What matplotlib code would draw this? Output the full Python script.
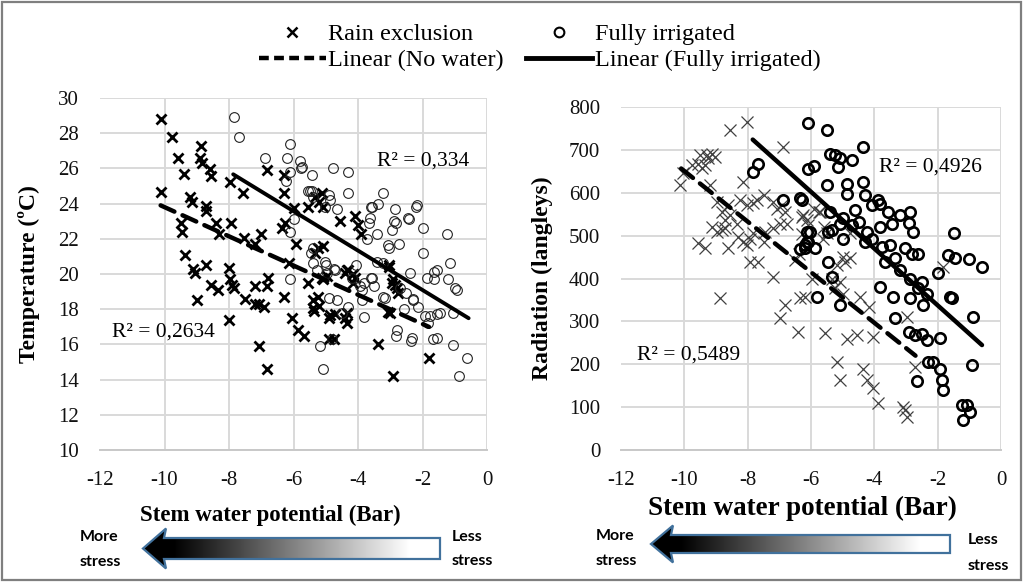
import matplotlib
matplotlib.use("Agg")
import matplotlib.pyplot as plt
from matplotlib.lines import Line2D
from matplotlib.patches import Polygon, Rectangle
import numpy as np

# ---- left panel: air temperature vs stem water potential
temp_rain = [
    (-10.1, 28.8), (-9.76, 27.8), (-9.57, 26.6), (-9.38, 25.7), (-10.12, 24.65), (-9.2, 24.4),
    (-9.15, 24.1), (-9.5, 22.9), (-9.45, 22.4), (-8.86, 27.3), (-8.9, 26.6), (-8.85, 26.3),
    (-8.6, 25.95), (-8.55, 25.55), (-8.7, 23.85), (-8.7, 23.6), (-8.4, 22.9), (-8.3, 22.3),
    (-7.97, 25.2), (-7.57, 24.6), (-7.93, 22.9), (-7.55, 22.05), (-7.2, 21.7), (-7.0, 22.3),
    (-6.83, 25.9), (-6.3, 25.65), (-6.3, 24.6), (-6.35, 22.6), (-6.25, 22.9), (-5.97, 23.75),
    (-5.93, 21.7), (-5.55, 23.8), (-5.33, 24.4), (-5.2, 24.1), (-5.1, 23.8), (-5.13, 24.6),
    (-4.55, 23.0), (-4.1, 23.3), (-4.0, 22.8), (-3.9, 22.3), (-5.33, 21.2), (-5.1, 21.6),
    (-6.15, 20.6), (-4.35, 20.2), (-4.15, 20.0), (-3.05, 20.5), (-2.9, 19.7), (-2.8, 19.2),
    (-9.36, 21.1), (-9.12, 20.3), (-9.05, 20.05), (-8.72, 20.5), (-9.0, 18.5), (-8.57, 19.4),
    (-8.33, 19.1), (-7.99, 20.35), (-7.97, 19.7), (-7.92, 19.4), (-7.86, 19.2), (-7.99, 17.4),
    (-7.5, 18.6), (-7.2, 19.3), (-7.2, 18.3), (-7.06, 18.3), (-6.9, 18.1), (-6.8, 19.8),
    (-6.83, 19.3), (-7.06, 15.9), (-6.83, 14.6), (-6.3, 18.7), (-6.04, 17.5), (-5.85, 16.8),
    (-5.67, 16.5), (-5.55, 19.5), (-5.4, 18.5), (-5.37, 17.9), (-5.25, 18.7), (-5.2, 18.2),
    (-5.1, 19.7), (-4.95, 19.9), (-4.9, 17.5), (-4.9, 16.3), (-4.75, 16.3), (-4.7, 17.7),
    (-4.4, 20.05), (-4.4, 17.5), (-4.35, 17.2), (-4.1, 19.8), (-3.37, 16.0), (-3.05, 20.4),
    (-2.95, 19.5), (-3.0, 17.8), (-2.92, 14.2), (-2.75, 18.9), (-1.8, 15.2), (-5.39, 18.05),
    (-4.87, 17.67), (-4.35, 17.77), (-5.23, 21.46), (-5.13, 19.75), (-4.3, 20.2), (-4.15, 19.47),
    (-2.85, 19.4), (-3.06, 17.86),
]
temp_irrig = [
    (-7.86, 28.9), (-7.69, 27.8), (-6.88, 26.6), (-6.19, 26.6), (-6.1, 27.4), (-6.23, 25.3),
    (-6.1, 25.8), (-5.8, 26.4), (-5.77, 26.0), (-5.43, 25.6), (-4.78, 26.0), (-4.3, 25.8),
    (-5.55, 24.7), (-5.43, 24.7), (-5.38, 24.4), (-4.9, 24.5), (-4.87, 24.2), (-4.66, 23.7),
    (-4.3, 24.6), (-3.6, 23.8), (-3.37, 24.0), (-3.23, 24.6), (-2.85, 23.7), (-2.2, 23.8),
    (-2.43, 23.1), (-2.87, 23.0), (-2.83, 22.9), (-2.96, 22.5), (-3.66, 22.9), (-3.4, 22.3),
    (-2.0, 22.6), (-1.24, 22.3), (-1.97, 21.2), (-3.05, 21.5), (-2.73, 21.7), (-3.73, 22.0),
    (-5.97, 23.1), (-6.1, 22.4), (-5.45, 21.2), (-5.4, 20.6), (-5.28, 20.2), (-4.97, 20.05),
    (-4.75, 20.3), (-4.05, 20.5), (-2.4, 20.05), (-1.87, 19.8), (-1.63, 20.1), (-1.63, 19.7),
    (-1.14, 20.6), (-1.22, 19.7), (-0.93, 19.1), (-6.1, 19.7), (-3.82, 19.5), (-3.87, 19.1),
    (-3.6, 19.8), (-2.7, 19.2), (-2.5, 18.9), (-2.3, 18.5), (-2.15, 18.1), (-3.8, 17.55),
    (-4.3, 18.1), (-4.66, 18.5), (-4.9, 18.65), (-5.0, 20.5), (-4.7, 20.2), (-3.5, 19.3),
    (-3.16, 18.65), (-2.8, 16.8), (-2.83, 16.5), (-2.56, 18.0), (-2.35, 16.2), (-1.93, 17.6),
    (-1.83, 17.2), (-1.66, 16.3), (-1.76, 17.6), (-1.55, 17.7), (-1.04, 15.96), (-0.63, 15.2),
    (-0.86, 14.2), (-1.04, 17.8), (-5.18, 15.9), (-5.1, 14.6), (-4.82, 16.3), (-3.89, 18.5),
    (-3.94, 19.3), (-3.22, 18.7), (-2.33, 16.35), (-1.56, 16.35), (-2.29, 18.6), (-1.46, 17.8),
    (-0.99, 19.2), (-1.56, 20.2), (-2.18, 23.9), (-2.46, 23.2), (-3.63, 23.2), (-3.57, 23.8),
    (-3.06, 21.65), (-3.42, 20.7), (-3.22, 20.6), (-4.2, 19.75), (-3.58, 19.75), (-4.5, 17.8),
    (-5.03, 20.7), (-5.39, 21.5), (-5.49, 24.7), (-5.02, 23.8), (-5.75, 26.1),
]
# trendlines as shown: slope, intercept, x from, x to
temp_fit_rain = (-0.83, 15.5, -10.12, -1.8)
temp_fit_irrig = (-1.12, 16.85, -7.87, -0.57)
temp_r2 = ["R² = 0,2634", "R² = 0,334"]

# ---- right panel: solar radiation vs stem water potential
rad_rain = [
    (-10.14, 617), (-10.03, 645), (-9.77, 664), (-9.56, 668), (-9.45, 657), (-9.35, 664),
    (-9.24, 680), (-9.14, 691), (-9.03, 684), (-9.3, 687), (-9.5, 687), (-9.19, 617),
    (-8.98, 579), (-8.82, 555), (-8.61, 571), (-8.72, 536), (-8.56, 548), (-9.14, 520),
    (-8.98, 509), (-8.82, 513), (-8.72, 517), (-8.56, 746), (-8.03, 765), (-9.56, 482),
    (-9.35, 470), (-8.61, 470), (-8.35, 528), (-8.3, 497), (-8.14, 486), (-8.03, 478),
    (-7.93, 493), (-7.82, 505), (-7.93, 439), (-7.66, 439), (-8.24, 583), (-8.03, 571),
    (-7.82, 575), (-7.71, 583), (-7.5, 594), (-8.14, 625), (-6.9, 707), (-8.87, 355),
    (-7.19, 579), (-7.08, 563), (-6.92, 571), (-6.82, 555), (-7.19, 517), (-6.98, 528),
    (-6.77, 528), (-7.5, 486), (-7.45, 509), (-7.19, 404), (-6.82, 338), (-6.98, 307),
    (-6.4, 276), (-6.35, 354), (-6.19, 357), (-6.24, 548), (-6.13, 536), (-6.08, 524),
    (-5.98, 400), (-5.56, 272), (-4.87, 260), (-4.55, 268), (-4.03, 264), (-5.19, 206),
    (-5.08, 163), (-4.35, 190), (-4.24, 163), (-4.03, 144), (-3.87, 109), (-3.09, 101),
    (-2.98, 78), (-3.03, 93), (-2.98, 311), (-2.72, 194), (-4.45, 357), (-4.18, 334),
    (-4.98, 365), (-5.24, 377), (-5.08, 392), (-5.35, 400), (-4.98, 450), (-4.77, 447),
    (-5.19, 431), (-4.92, 439), (-5.61, 493), (-5.5, 505), (-1.82, 427), (-5.72, 555),
    (-4.77, 505), (-5.92, 563), (-5.76, 555), (-5.6, 520), (-6.28, 543), (-6.28, 504),
    (-6.5, 442), (-6.39, 458),
]
rad_irrig = [
    (-6.08, 762), (-5.5, 746), (-4.35, 707), (-5.4, 691), (-5.24, 687), (-5.08, 680),
    (-5.14, 660), (-4.72, 676), (-6.08, 656), (-5.92, 662), (-5.5, 617), (-4.87, 621),
    (-4.87, 596), (-4.35, 624), (-4.29, 594), (-3.87, 583), (-3.82, 573), (-4.08, 571),
    (-3.56, 555), (-3.19, 548), (-2.87, 555), (-2.92, 530), (-2.77, 509), (-4.61, 559),
    (-3.82, 520), (-3.45, 528), (-4.5, 532), (-4.71, 524), (-4.98, 540), (-5.08, 528),
    (-5.4, 555), (-5.45, 509), (-5.35, 513), (-4.24, 509), (-4.08, 493), (-4.29, 486),
    (-4.98, 493), (-3.77, 474), (-3.5, 478), (-3.03, 470), (-2.82, 458), (-2.61, 457),
    (-3.66, 439), (-3.35, 447), (-3.19, 420), (-2.87, 400), (-2.5, 392), (-2.61, 377),
    (-1.5, 505), (-1.66, 454), (-1.45, 447), (-1.0, 445), (-0.61, 427), (-1.98, 412),
    (-2.35, 365), (-2.45, 338), (-2.87, 354), (-3.4, 357), (-3.82, 381), (-1.61, 357),
    (-1.56, 354), (-0.88, 311), (-3.35, 307), (-2.92, 276), (-2.71, 268), (-2.5, 270),
    (-2.35, 257), (-1.93, 261), (-2.29, 206), (-2.14, 206), (-1.93, 188), (-1.87, 163),
    (-1.82, 140), (-2.66, 161), (-0.93, 198), (-1.24, 105), (-1.08, 105), (-0.98, 88),
    (-1.19, 70), (-5.08, 338), (-5.82, 357), (-5.35, 404), (-5.45, 439), (-6.08, 486),
    (-6.13, 509), (-6.19, 478), (-6.35, 587), (-7.66, 666), (-7.82, 649), (-6.87, 583),
    (-6.29, 583), (-6.03, 509), (-6.13, 486), (-6.35, 469), (-6.19, 470), (-5.87, 470),
]
rad_fit_rain = (-59.0, 60.7, -10.1, -2.7)
rad_fit_irrig = (-66.2, 205.0, -7.84, -0.6)
rad_r2 = ["R² = 0,5489", "R² = 0,4926"]

x_ticks = list(range(-12, 1, 2))
temp_ticks = list(range(10, 31, 2))
rad_ticks = list(range(0, 801, 100))

serif = "Liberation Serif"
grid_c = "#d9d9d9"

fig = plt.figure(figsize=(10.24, 5.83), dpi=100)
fig.patch.set_facecolor("white")

ax1 = fig.add_axes([100 / 1024, 1 - 450 / 583, 387 / 1024, 352 / 583])
ax2 = fig.add_axes([621 / 1024, 1 - 450 / 583, 380 / 1024, 343 / 583])


def trend(ax, fit, **kw):
    slope, icpt, x0, x1 = fit
    xs = np.array([x0, x1])
    ax.plot(xs, slope * xs + icpt, color="black", zorder=4, **kw)


def style(ax, ylim, yticks):
    ax.set_xlim(-12, 0)
    ax.set_ylim(*ylim)
    ax.set_xticks(x_ticks)
    ax.set_yticks(yticks)
    ax.set_xticklabels([str(v) for v in x_ticks])
    ax.grid(True, color=grid_c, lw=1.4)
    ax.set_axisbelow(True)
    ax.xaxis.get_gridlines()[0].set_visible(False)
    for s in ["top", "right", "left"]:
        ax.spines[s].set_visible(False)
    ax.spines["bottom"].set_color("#c8c8c8")
    ax.spines["bottom"].set_linewidth(1.4)
    ax.tick_params(length=0, labelsize=15, colors="#111111")
    ax.tick_params(axis="x", pad=15)
    ax.tick_params(axis="y", pad=15)
    for lab in ax.get_xticklabels() + ax.get_yticklabels():
        lab.set_family(serif)


tr = np.array(temp_rain).T
ti = np.array(temp_irrig).T
ax1.plot(tr[0], tr[1], ls="none", marker="x", ms=7, mew=2.0, color="black", zorder=3)
ax1.plot(ti[0], ti[1], ls="none", marker="o", ms=7, mfc="none", mec="#222222", mew=0.8, zorder=3)
trend(ax1, temp_fit_rain, lw=3.2, ls=(0, (3.4, 2.0)), dash_capstyle="round")
trend(ax1, temp_fit_irrig, lw=2.8, solid_capstyle="round")
style(ax1, (10, 30), temp_ticks)
ax1.text(-11.62, 16.7, temp_r2[0], fontsize=15.5, family=serif, va="center", zorder=5)
ax1.text(-3.42, 26.4, temp_r2[1], fontsize=15.5, family=serif, va="center", zorder=5)
ax1.set_ylabel("Temperature (ºC)", fontsize=17, family=serif, fontweight="bold")
ax1.yaxis.set_label_coords(-0.155, 0.5)

rr = np.array(rad_rain).T
ri = np.array(rad_irrig).T
ax2.plot(rr[0], rr[1], ls="none", marker="x", ms=8.5, mew=0.9, color="#404040", zorder=3)
ax2.plot(ri[0], ri[1], ls="none", marker="o", ms=7.5, mfc="none", mec="black", mew=1.9, zorder=3)
trend(ax2, rad_fit_rain, lw=3.2, ls=(0, (3.4, 2.0)), dash_capstyle="round")
trend(ax2, rad_fit_irrig, lw=3.2, solid_capstyle="round")
style(ax2, (0, 800), rad_ticks)
ax2.text(-11.5, 221, rad_r2[0], fontsize=15.5, family=serif, va="center", zorder=5)
ax2.text(-3.86, 660, rad_r2[1], fontsize=15.5, family=serif, va="center", zorder=5)
ax2.set_ylabel("Radiation (langleys)", fontsize=17, family=serif, fontweight="bold")
ax2.yaxis.set_label_coords(-0.18, 0.5)

# legend on top
handles = [
    Line2D([], [], ls="none", marker="x", ms=7, mew=1.8, color="black"),
    Line2D([], [], color="black", lw=3.2, ls=(0, (2.2, 1.2))),
    Line2D([], [], ls="none", marker="o", ms=7, mfc="none", mec="black", mew=1.5),
    Line2D([], [], color="black", lw=3.5),
]
labels = ["Rain exclusion", "Linear (No water)", "Fully irrigated", "Linear (Fully irrigated)"]
fig.legend(handles, labels, loc="upper center", bbox_to_anchor=(0.527, 0.998), ncol=2,
           frameon=False, handlelength=2.75, handletextpad=0.1, columnspacing=0.9,
           labelspacing=0.17, prop={"family": serif, "size": 17.5})

# overlay in pixel coordinates for border, x labels and stress arrows
ov = fig.add_axes([0, 0, 1, 1], zorder=10)
ov.set_xlim(0, 1024)
ov.set_ylim(583, 0)
ov.axis("off")
ov.add_patch(Rectangle((2, 2), 1019, 578, fill=False, ec="#7f7f7f", lw=1.6))

ov.text(270, 515, "Stem water potential (Bar)", ha="center", va="center",
        fontsize=16.5, family=serif, fontweight="bold")
ov.text(802, 508, "Stem water potential (Bar)", ha="center", va="center",
        fontsize=19.5, family=serif, fontweight="bold")


def stress_arrow(tip, y0, y1, x_end, head_len, head_h):
    yc = (y0 + y1) / 2
    xb = tip + head_len
    pts = [(tip, yc), (xb + 2, yc - head_h / 2), (xb, y0), (x_end, y0), (x_end, y1),
           (xb, y1), (xb + 2, yc + head_h / 2)]
    poly = Polygon(pts, closed=True, fc="none", ec="#41719c", lw=1.6, zorder=12)
    ov.add_patch(poly)
    shade = np.clip((np.linspace(tip, x_end, 300) - (tip + 30)) / (x_end - tip - 60), 0, 1)
    im = ov.imshow(shade[np.newaxis, :], cmap="gray", vmin=0, vmax=1, aspect="auto",
                   extent=(tip, x_end, yc + head_h / 2, yc - head_h / 2), zorder=11,
                   interpolation="bilinear")
    im.set_clip_path(poly)


stress_arrow(143, 538, 559, 440, 21, 40)
stress_arrow(651, 535, 553, 950, 20, 37)
ov.set_xlim(0, 1024)
ov.set_ylim(583, 0)

lab_kw = dict(fontsize=11.5, family="Lato", fontweight="bold", va="center", ha="left")
ov.text(80, 537, "More", **lab_kw)
ov.text(80, 562, "stress", **lab_kw)
ov.text(452, 537, "Less", **lab_kw)
ov.text(452, 561, "stress", **lab_kw)
ov.text(596, 536, "More", **lab_kw)
ov.text(596, 561, "stress", **lab_kw)
ov.text(968, 540, "Less", **lab_kw)
ov.text(968, 566, "stress", **lab_kw)

fig.savefig("out.png", dpi=100)
